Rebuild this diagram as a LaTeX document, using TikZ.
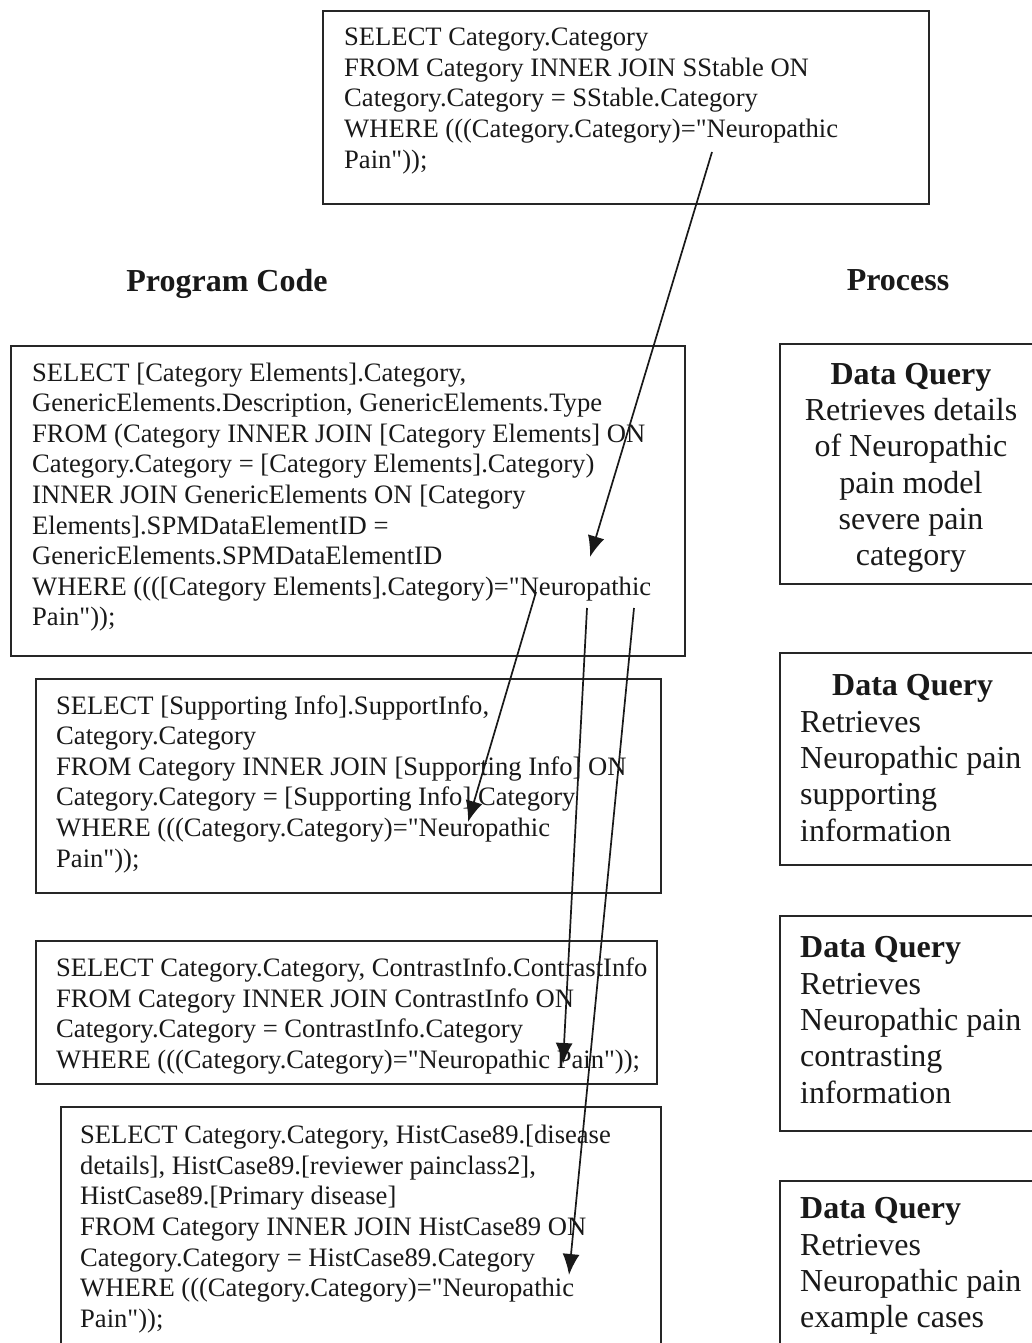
\documentclass[tikz,border=0pt]{standalone}
\usepackage{fontspec}
\setmainfont{Liberation Serif}[Ligatures=TeXOff]
\usetikzlibrary{arrows.meta}

\begin{document}
\begin{tikzpicture}[x=1pt,y=-1pt,
    box/.style={draw=black!85, line width=2.2pt, inner sep=0pt, anchor=north west},
    code/.style={font=\fontsize{26.6}{30.6}\selectfont, align=left, inner sep=0pt, anchor=west, text=black!90},
    proc/.style={font=\fontsize{32}{36.3}\selectfont, inner sep=0pt, text=black!90},
    head/.style={font=\fontsize{32}{38}\selectfont\bfseries, inner sep=0pt, anchor=base, text=black!90},
    link/.style={draw=black!90, line width=1.7pt, -{Latex[length=21pt,width=17pt]}}]

    % Fix the page
    \useasboundingbox (0,0) rectangle (1032,1343);
    \clip (0,0) rectangle (1032,1343);
    \fill[white] (0,0) rectangle (1032,1343);

    % Define the boxes
    \node[box, minimum width=606pt, minimum height=193pt] (sel) at (322,10) {};
    \node[box, minimum width=674pt, minimum height=310pt] (elem) at (10,345) {};
    \node[box, minimum width=625pt, minimum height=214pt] (supp) at (35,678) {};
    \node[box, minimum width=621pt, minimum height=143pt] (cont) at (35,940) {};
    \node[box, minimum width=600pt, minimum height=241pt] (hist) at (60,1106) {};
    \node[box, minimum width=264pt, minimum height=240pt] (qelem) at (779,343) {};
    \node[box, minimum width=264pt, minimum height=212pt] (qsupp) at (779,652) {};
    \node[box, minimum width=264pt, minimum height=215pt] (qcont) at (779,915) {};
    \node[box, minimum width=264pt, minimum height=167pt] (qhist) at (779,1180) {};

    % Headings
    \node[head] (code) at (227,291) {Program Code};
    \node[head] (proc) at (898,290) {Process};

    % Program code
    \node[code] (selT) at (344,101) {SELECT Category.Category\\
        FROM Category INNER JOIN SStable ON\\
        Category.Category = SStable.Category\\
        WHERE (((Category.Category)="Neuropathic\\
        Pain"));};
    \node[code] (elemT) at (32,497) {SELECT [Category Elements].Category,\\
        GenericElements.Description, GenericElements.Type\\
        FROM (Category INNER JOIN [Category Elements] ON\\
        Category.Category = [Category Elements].Category)\\
        INNER JOIN GenericElements ON [Category\\
        Elements].SPMDataElementID =\\
        GenericElements.SPMDataElementID\\
        WHERE ((([Category Elements].Category)="Neuropathic\\
        Pain"));};
    \node[code] (suppT) at (56,784) {SELECT [Supporting Info].SupportInfo,\\
        Category.Category\\
        FROM Category INNER JOIN [Supporting Info] ON\\
        Category.Category = [Supporting Info].Category\\
        WHERE (((Category.Category)="Neuropathic\\
        Pain"));};
    \node[code] (contT) at (56,1016) {SELECT Category.Category, ContrastInfo.ContrastInfo\\
        FROM Category INNER JOIN ContrastInfo ON\\
        Category.Category = ContrastInfo.Category\\
        WHERE (((Category.Category)="Neuropathic Pain"));};
    \node[code] (histT) at (80,1229) {SELECT Category.Category, HistCase89.[disease\\
        details], HistCase89.[reviewer painclass2],\\
        HistCase89.[Primary disease]\\
        FROM Category INNER JOIN HistCase89 ON\\
        Category.Category = HistCase89.Category\\
        WHERE (((Category.Category)="Neuropathic\\
        Pain"));};

    % Process
    \node[proc, align=center] (qelemT) at (911,468) {\textbf{Data Query}\\
        Retrieves details\\ of Neuropathic\\ pain model\\ severe pain\\ category};
    \node[proc, align=left, anchor=west] (qsuppT) at (800,758) {\hspace*{32pt}\textbf{Data Query}\\
        Retrieves\\ Neuropathic pain\\ supporting\\ information};
    \node[proc, align=left, anchor=west] (qcontT) at (800,1020) {\textbf{Data Query}\\
        Retrieves\\ Neuropathic pain\\ contrasting\\ information};
    \node[proc, align=left, anchor=west] (qhistT) at (800,1266) {\textbf{Data Query}\\
        Retrieves\\ Neuropathic pain\\ example cases};

    % Define the arrow ends
    \coordinate (S1) at (712,152);
    \coordinate (T1) at (590,557);
    \coordinate (S2) at (536,592);
    \coordinate (T2) at (468,822);
    \coordinate (S3) at (587,608);
    \coordinate (T3) at (563,1064);
    \coordinate (S4) at (634,608);
    \coordinate (T4) at (569,1275);

    % Draw the links
    \draw[link] (S1) -- (T1);
    \draw[link] (S2) -- (T2);
    \draw[link] (S3) -- (T3);
    \draw[link] (S4) -- (T4);
\end{tikzpicture}
\end{document}
